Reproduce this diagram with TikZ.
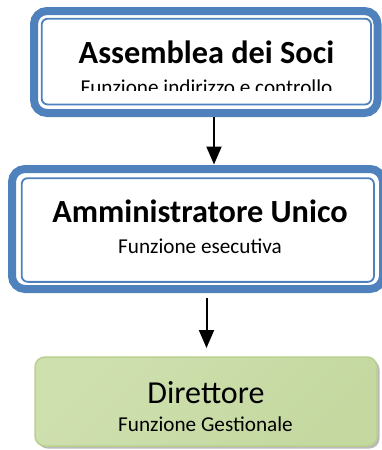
\documentclass[tikz,border=0pt]{standalone}
\usepackage{fontspec}
\setmainfont{Carlito}
\usetikzlibrary{arrows.meta,shadows}
\definecolor{offblue}{HTML}{4F81BD}
\definecolor{grnline}{HTML}{B9D08E}
\definecolor{grnA}{HTML}{CFE0AF}
\definecolor{grnB}{HTML}{F0F5E8}
\definecolor{grnC}{HTML}{C4D8A0}
\tikzset{
  outerbox/.style={draw=offblue, line width=8pt, rounded corners=13pt, fill=white, inner sep=0pt},
  innerbox/.style={draw=offblue, line width=1.8pt, rounded corners=6pt, inner sep=0pt},
  greenbox/.style={draw=grnline, line width=1.5pt, rounded corners=10pt, inner sep=0pt,
    left color=grnA, middle color=grnB, right color=grnC, shading angle=45,
    drop shadow={shadow xshift=2.5pt, shadow yshift=-2.5pt, opacity=0.45, fill=black!60}},
  title/.style={font=\bfseries\fontsize{32.3}{37}\selectfont, anchor=base, inner sep=0pt},
  bigtext/.style={font=\fontsize{32}{37}\selectfont, anchor=base, inner sep=0pt},
  subtext/.style={font=\fontsize{21.2}{25}\selectfont, anchor=base, inner sep=0pt},
  arr/.style={line width=2pt, -{Triangle[width=15pt,length=18pt]}}
}
\begin{document}
\begin{tikzpicture}[x=1pt,y=-1pt]
\useasboundingbox (0,0) rectangle (382,450);
% Box 1
\node[outerbox, minimum width=343.5pt, minimum height=102pt] (b1) at (205.75,62) {};
\node[innerbox, minimum width=329.3pt, minimum height=85.8pt] (b1in) at (206.35,61.6) {};
\node[title] (t1) at (206.5,63) {Assemblea dei Soci};
\begin{scope}
\clip (0,0) rectangle (382,90);
\node[subtext] (s1) at (206.5,94.5) {Funzione indirizzo e controllo};
\end{scope}
% Box 2
\node[outerbox, minimum width=371pt, minimum height=120pt] (b2) at (197.5,229) {};
\node[innerbox, minimum width=352.3pt, minimum height=103.7pt] (b2in) at (197.85,230) {};
\node[title] (t2) at (200,222) {Amministratore Unico};
\node[subtext] (s2) at (200,253) {Funzione esecutiva};
% Box 3
\node[greenbox, minimum width=342pt, minimum height=89pt] (b3) at (206,401.5) {};
\node[bigtext] (t3) at (206,403.5) {Direttore};
\node[subtext] (s3) at (205.5,431.5) {Funzione Gestionale};
% Arrows
\coordinate (a1s) at (214,117);
\coordinate (a1e) at (214,164.5);
\coordinate (a2s) at (206.5,298);
\coordinate (a2e) at (206.5,348);
\draw[arr] (a1s) -- (a1e);
\draw[arr] (a2s) -- (a2e);
\end{tikzpicture}
\end{document}
